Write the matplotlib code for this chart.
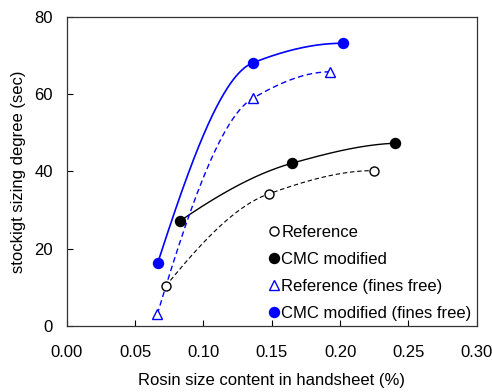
import numpy as np
import matplotlib
matplotlib.use("Agg")
import matplotlib.pyplot as plt
from matplotlib.lines import Line2D

plt.rcParams['font.family'] = ['Liberation Sans', 'DejaVu Sans']
plt.rcParams['font.size'] = 12

# data
ref_x = [0.0725, 0.148, 0.2247]
ref_y = [10.3, 34.2, 40.2]
cmc_x = [0.0827, 0.1647, 0.2403]
cmc_y = [27.1, 42.1, 47.3]
ref_ff_x = [0.0663, 0.136, 0.1927]
ref_ff_y = [3.0, 58.9, 65.8]
cmc_ff_x = [0.0666, 0.136, 0.2018]
cmc_ff_y = [16.3, 68.1, 73.2]

labels = ["Reference", "CMC modified", "Reference (fines free)", "CMC modified (fines free)"]
x_ticks = [0.00, 0.05, 0.10, 0.15, 0.20, 0.25, 0.30]
y_ticks = [0, 20, 40, 60, 80]

BLUE = (0, 0, 1)


def pchip(xs, ys, n=200):
  # monotone cubic (Fritsch-Carlson) smooth line through the points
  x = np.asarray(xs, float)
  y = np.asarray(ys, float)
  h = np.diff(x)
  d = np.diff(y) / h
  m = np.zeros_like(x)
  for k in range(1, len(x) - 1):
    if d[k - 1] * d[k] > 0:
      w1 = 2 * h[k] + h[k - 1]
      w2 = h[k] + 2 * h[k - 1]
      m[k] = (w1 + w2) / (w1 / d[k - 1] + w2 / d[k])
  m0 = ((2 * h[0] + h[1]) * d[0] - h[0] * d[1]) / (h[0] + h[1])
  m[0] = m0 if np.sign(m0) == np.sign(d[0]) else 0
  mn = ((2 * h[-1] + h[-2]) * d[-1] - h[-1] * d[-2]) / (h[-1] + h[-2])
  m[-1] = mn if np.sign(mn) == np.sign(d[-1]) else 0
  xx = np.linspace(x[0], x[-1], n)
  idx = np.clip(np.searchsorted(x, xx) - 1, 0, len(x) - 2)
  t = (xx - x[idx]) / h[idx]
  h00 = 2 * t**3 - 3 * t**2 + 1
  h10 = t**3 - 2 * t**2 + t
  h01 = -2 * t**3 + 3 * t**2
  h11 = t**3 - t**2
  yy = h00 * y[idx] + h10 * h[idx] * m[idx] + h01 * y[idx + 1] + h11 * h[idx] * m[idx + 1]
  return xx, yy


fig = plt.figure(figsize=(4.92, 3.92), dpi=100)
ax = fig.add_axes([0.1356, 0.169, 0.8334, 0.7876])

ax.plot(*pchip(ref_x, ref_y), color='black', lw=0.8, ls=(0, (4, 2.5)))
ax.plot(*pchip(cmc_x, cmc_y), color='black', lw=1.0)
ax.plot(*pchip(ref_ff_x, ref_ff_y), color=BLUE, lw=1.0, ls=(0, (4, 2.5)))
ax.plot(*pchip(cmc_ff_x, cmc_ff_y), color=BLUE, lw=1.2)

ax.plot(ref_x, ref_y, 'o', ms=6.5, mfc='white', mec='black', mew=1.0, zorder=3)
ax.plot(cmc_x, cmc_y, 'o', ms=7.2, mfc='black', mec='black', zorder=3)
ax.plot(ref_ff_x, ref_ff_y, '^', ms=7.5, mfc='white', mec=BLUE, mew=1.0, zorder=3)
ax.plot(cmc_ff_x, cmc_ff_y, 'o', ms=7.2, mfc=BLUE, mec=BLUE, zorder=3)

handles = [
  Line2D([], [], ls='none', marker='o', ms=6.5, mfc='white', mec='black', mew=1.0),
  Line2D([], [], ls='none', marker='o', ms=7.2, mfc='black', mec='black'),
  Line2D([], [], ls='none', marker='^', ms=7.5, mfc='white', mec=BLUE, mew=1.0),
  Line2D([], [], ls='none', marker='o', ms=7.2, mfc=BLUE, mec=BLUE),
]
ax.legend(handles, labels, loc='lower right', frameon=False, handlelength=0.6,
          handletextpad=0.15, labelspacing=0.72, borderpad=0.1, borderaxespad=0.2)

ax.set_xlim(0, 0.30)
ax.set_ylim(0, 80)
ax.set_xticks(x_ticks)
ax.set_xticklabels(["%.2f" % v for v in x_ticks])
ax.set_yticks(y_ticks)
ax.tick_params(direction='in', length=4, width=0.8)
ax.tick_params(axis='x', pad=14)
ax.tick_params(axis='y', pad=10)
for s in ax.spines.values():
  s.set_linewidth(0.9)
  s.set_color('#333333')

ax.set_xlabel("Rosin size content in handsheet (%)", labelpad=9)
ax.set_ylabel("stockigt sizing degree (sec)", labelpad=6)

fig.savefig("out.png", dpi=100)
